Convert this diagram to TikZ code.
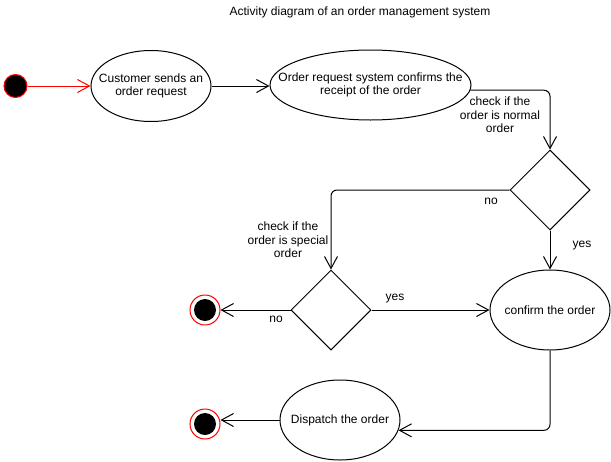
\documentclass[tikz,border=0pt]{standalone}
\usepackage{fontspec}
\setmainfont{Liberation Sans}
\usetikzlibrary{shapes.geometric,arrows.meta}
\begin{document}
\begin{tikzpicture}[x=1pt,y=-1pt,line width=1pt,
  font=\fontsize{12}{13.5}\selectfont,
  lbl/.style={align=center,inner sep=0pt},
  act/.style={draw,ellipse,inner sep=0pt,label={[lbl]center:#1}},
  dec/.style={draw,diamond,minimum width=80pt,minimum height=80pt,inner sep=0pt},
  flow/.style={draw,-{Straight Barb[length=12pt,width=13pt]}},
  startnode/.style={circle,fill=black,draw=red,minimum size=23pt,inner sep=0pt},
  endring/.style={circle,draw=red,fill=white,minimum size=30pt,inner sep=0pt},
  enddot/.style={circle,fill=black,minimum size=22pt,inner sep=0pt}]
\fill[white] (0,0) rectangle (611,461);
\useasboundingbox (0,0) rectangle (611,461);

\node[lbl] (title) at (360,12) {Activity diagram of an order management system};

\node[startnode] (start) at (15.5,86) {};
\node[act={Customer sends an\\order request},minimum width=120pt,minimum height=71pt] (cust) at (151,86) {};
\node[act={Order request system confirms the\\receipt of the order},minimum width=201pt,minimum height=70pt] (conf1) at (370.5,85) {};
\node[dec] (d1) at (550,190) {};
\node[dec] (d2) at (331,310) {};
\node[act={confirm the order},minimum width=120pt,minimum height=80pt] (confirm) at (550,310) {};
\node[act={Dispatch the order},minimum width=120pt,minimum height=80pt] (disp) at (340,420) {};
\node[endring] (end1) at (205,310) {};
\node[enddot] (end1in) at (end1) {};
\node[endring] (end2) at (205,424) {};
\node[enddot] (end2in) at (end2) {};

\draw[flow,red] (start) -- (cust);
\draw[flow] (cust) -- (conf1.west |- cust);
\draw[flow,rounded corners=6pt] (conf1.-3) -| (d1.north);
\draw[flow,rounded corners=6pt] (d1.west) -| (d2.north);
\draw[flow] (d1.south) -- (confirm.north);
\draw[flow] (d2.west) -- (end1);
\draw[flow] (d2.east) -- (confirm.west);
\draw[flow,rounded corners=6pt] (confirm.south) |- (disp.-10);
\draw[flow] (disp.west) -- (end2.east |- disp.west);

\node[lbl] (l1) at (500,115) {check if the\\order is normal\\order};
\node[lbl] (l2) at (491,201) {no};
\node[lbl] (l3) at (582,246) {yes};
\node[lbl] (l4) at (288,240) {check if the\\order is special\\order};
\node[lbl] (l5) at (276,319) {no};
\node[lbl] (l6) at (395,299) {yes};
\end{tikzpicture}
\end{document}
